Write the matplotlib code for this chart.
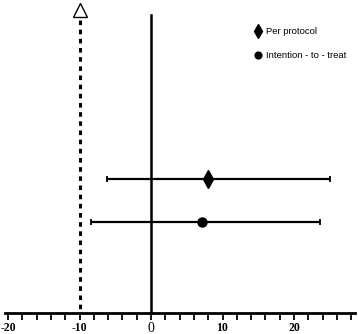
import numpy as np
import matplotlib.pyplot as plt
from matplotlib.lines import Line2D

labels = ['Per protocol', 'Intention - to - treat']
est = [8.0, 7.1]
lo = [-6.1, -8.4]
hi = [25.0, 23.7]
markers = ['d', 'o']
msizes = [9, 6.5]
rows = [179, 222]  # pixel rows from top

ticks = [-20, -10, 0, 10, 20]

fig = plt.figure(figsize=(3.58, 3.34), dpi=100)
bottom = (334 - 313) / 334
ax = fig.add_axes([0, bottom, 1, 1 - bottom])
ax.set_xlim(-151 / 7.15, (358 - 151) / 7.15)
ax.set_ylim(313, 0)

for s in ['top', 'right', 'left']:
    ax.spines[s].set_visible(False)
ax.spines['bottom'].set_linewidth(2)
ax.spines['bottom'].set_bounds(-20.4, 28.5)
ax.set_yticks([])
ax.set_xticks(ticks)
ax.set_xticks(np.arange(-20, 29, 2), minor=True)
ax.tick_params(axis='x', which='both', direction='out', length=5, width=1.3, pad=1.5)
ax.set_xticklabels([str(t) for t in ticks], fontfamily='Liberation Serif',
                   fontweight='bold', fontsize=8.5)
for lab in ax.get_xticklabels():
    if lab.get_text() == '0':
        lab.set_fontsize(10)
        lab.set_fontweight('normal')

# reference lines
ax.plot([0, 0], [15, 313], color='black', lw=1.8, clip_on=False)
ax.plot([-10, -10], [20, 313], color='black', lw=2.2, linestyle=(0, (1.5, 1.5)))
ax.plot([-10], [10], marker='^', markersize=10, markerfacecolor='white',
        markeredgecolor='black', markeredgewidth=1, clip_on=False)

for i in range(len(labels)):
    ax.errorbar(est[i], rows[i], xerr=[[est[i] - lo[i]], [hi[i] - est[i]]],
                fmt=markers[i], color='black', ms=msizes[i], elinewidth=1.6,
                capsize=2.5, capthick=1.3, zorder=3)

handles = [Line2D([], [], marker=markers[i], color='black', linestyle='none',
                  markersize=msizes[i] * 0.75) for i in range(len(labels))]
ax.legend(handles, labels, loc='upper left', bbox_to_anchor=(0.68, 0.94),
          frameon=False, prop={'family': 'Liberation Sans', 'size': 6.8},
          handletextpad=0.3, labelspacing=1.6, handlelength=1.2)

fig.savefig('out.png', dpi=100)
